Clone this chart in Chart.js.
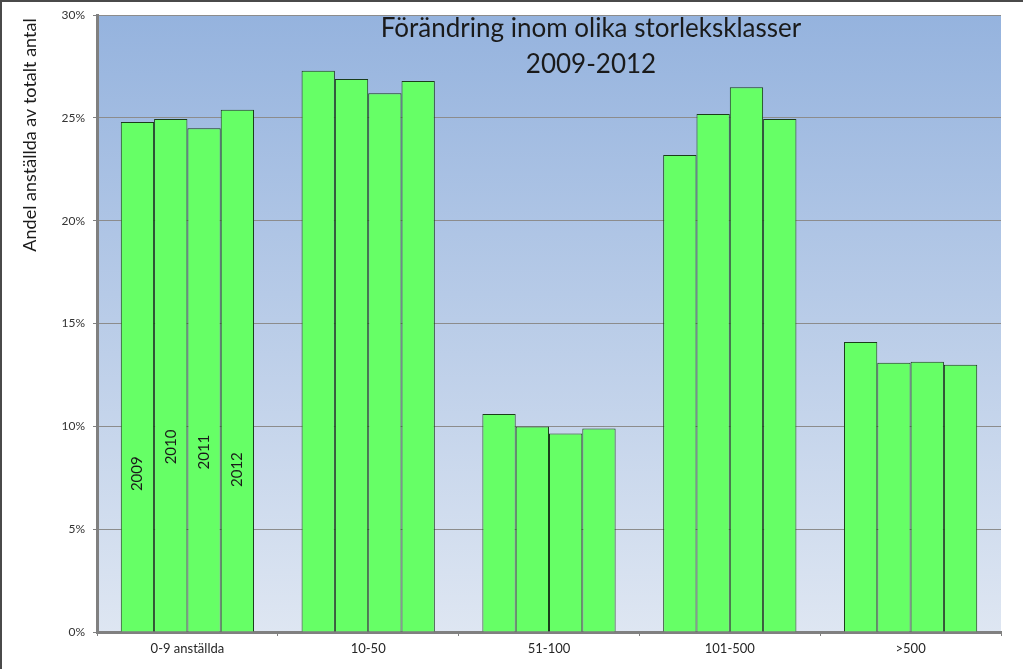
<!DOCTYPE html>
<html>
<head>
<meta charset="utf-8">
<script src="https://cdn.jsdelivr.net/npm/chart.js@4/dist/chart.umd.min.js"></script>
<style>
  html, body { margin: 0; padding: 0; background: #fff; }
  #wrap { width: 1023px; height: 669px; }
</style>
</head>
<body>
<div id="wrap"><canvas id="myChart"></canvas></div>
<script>
// storleksklasser (x-axeln)
const categories = ["0-9 anställda", "10-50", "51-100", "101-500", ">500"];
const years = ["2009", "2010", "2011", "2012"];

// andel i procent per år
const values2009 = [24.8, 27.3, 10.6, 23.2, 14.1];
const values2010 = [24.95, 26.9, 10.0, 25.2, 13.1];
const values2011 = [24.5, 26.2, 9.65, 26.5, 13.15];
const values2012 = [25.4, 26.8, 9.9, 24.95, 13.0];

const yTicks = [0, 5, 10, 15, 20, 25, 30];

const titleLines = ["Förändring inom olika storleksklasser", "2009-2012"];
const yTitle = "Andel anställda av totalt antal";

// var årtalen står inne i första gruppens staplar (i %)
const yearLabelAt = [7.7, 9.0, 8.75, 7.9];

const ctx = document.getElementById("myChart");

const allValues = [values2009, values2010, values2011, values2012];

const extras = {
    id: "extras",
    beforeDraw(chart) {
        const c = chart.ctx;
        const a = chart.chartArea;
        const g = c.createLinearGradient(0, a.top, 0, a.bottom);
        g.addColorStop(0, "#95b3de");
        g.addColorStop(1, "#dee6f2");
        c.save();
        c.fillStyle = g;
        c.fillRect(a.left, a.top, a.right - a.left, a.bottom - a.top);
        // ram runt bilden (bara topp och vänster syns)
        c.fillStyle = "#4a4a4a";
        c.fillRect(0, 0, chart.width, 2);
        c.fillRect(0, 0, 2, chart.height);
        c.restore();
    },
    afterDatasetsDraw(chart) {
        const c = chart.ctx;
        const yScale = chart.scales.y;
        c.save();
        c.fillStyle = "#1a1a1a";
        c.textAlign = "center";
        c.textBaseline = "middle";

        // titel inne i diagramytan
        c.font = "26px Lato";
        c.fillText(titleLines[0], 591, 29);
        c.fillText(titleLines[1], 591, 65);

        // årtal i staplarna
        c.font = "15px Lato";
        years.forEach((yr, i) => {
            const bar = chart.getDatasetMeta(i).data[0];
            c.save();
            c.translate(bar.x, yScale.getPixelForValue(yearLabelAt[i]));
            c.rotate(-Math.PI / 2);
            c.fillText(yr, 0, 0);
            c.restore();
        });

        // y-axelns rubrik
        c.font = "18px Lato";
        c.translate(30, 135);
        c.rotate(-Math.PI / 2);
        c.fillText(yTitle, 0, 0);
        c.restore();
    },
};

new Chart(ctx, {
    type: "bar",
    data: {
        labels: categories,
        datasets: years.map((yr, i) => ({
            label: yr,
            data: allValues[i],
            backgroundColor: "#66ff66",
            borderColor: "#1a3d1a",
            borderWidth: 1,
            borderSkipped: "bottom",
            categoryPercentage: 0.737,
            barPercentage: 1.0,
        })),
    },
    options: {
        responsive: true,
        maintainAspectRatio: false,
        animation: false,
        layout: { padding: { top: 15, right: 22, left: 0, bottom: 0 } },
        plugins: {
            legend: { display: false },
            tooltip: { enabled: false },
        },
        scales: {
            x: {
                grid: {
                    display: true,
                    offset: true,
                    drawOnChartArea: false,
                    drawTicks: true,
                    tickLength: 4,
                    color: "#808080",
                },
                border: { color: "#808080", width: 3 },
                ticks: {
                    color: "#262626",
                    font: { family: "Lato", size: 13 },
                    padding: 5,
                },
                afterFit(scale) {
                    scale.height = 37;
                },
            },
            y: {
                min: 0,
                max: 30,
                afterBuildTicks(scale) {
                    scale.ticks = yTicks.map((v) => ({ value: v }));
                },
                grid: {
                    color: "#8c8c8c",
                    lineWidth: 1,
                    drawTicks: true,
                    tickLength: 4,
                    tickColor: "#808080",
                },
                border: { color: "#808080", width: 3 },
                ticks: {
                    color: "#333333",
                    font: { family: "Lato", size: 12 },
                    padding: 8,
                    callback: (v) => v + "%",
                },
                afterFit(scale) {
                    scale.width = 97;
                },
            },
        },
    },
    plugins: [extras],
});
</script>
</body>
</html>
